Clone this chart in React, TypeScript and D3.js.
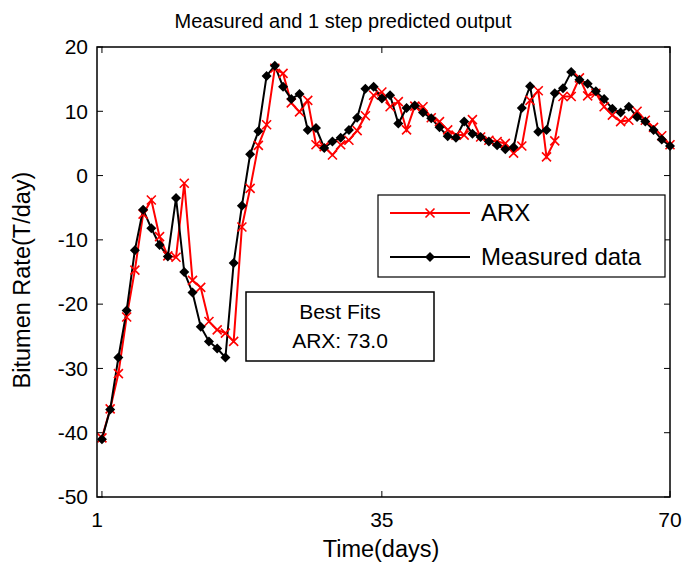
import React from 'react'
import * as d3 from 'd3'

const days = d3.range(1, 71)

const measured = [
  -41.0, -36.4, -28.3, -21.0, -11.6, -5.3, -8.2, -10.8, -12.6, -3.5,
  -15.0, -18.2, -23.5, -25.8, -26.9, -28.3, -13.6, -4.7, 3.3, 6.9,
  15.5, 17.1, 13.8, 11.9, 12.7, 7.1, 7.4, 4.3, 5.3, 5.9,
  7.1, 9.0, 13.5, 13.8, 12.0, 12.5, 8.1, 10.5, 10.9, 9.8,
  8.9, 7.5, 6.1, 5.9, 8.4, 6.5, 6.0, 5.3, 4.7, 4.1,
  4.4, 10.5, 13.9, 6.8, 7.1, 12.8, 13.6, 16.1, 14.9, 14.3,
  13.1, 11.9, 10.4, 9.8, 10.7, 9.1, 8.4, 7.1, 5.6, 4.6,
]

const arx = [
  -40.8, -36.3, -30.8, -22.0, -14.7, -6.0, -3.8, -9.5, -12.5, -12.7,
  -1.2, -16.3, -17.4, -22.7, -24.0, -24.5, -25.8, -8.0, -2.0, 4.7,
  7.9, 16.7, 15.9, 11.3, 9.9, 11.7, 4.8, 4.5, 3.2, 4.8,
  5.5, 7.0, 9.3, 12.5, 13.0, 10.7, 11.5, 7.1, 10.8, 10.7,
  9.0, 8.4, 7.1, 6.3, 6.3, 8.7, 6.0, 5.5, 5.3, 5.0,
  3.5, 4.6, 11.7, 13.2, 2.9, 5.4, 12.3, 12.3, 15.2, 12.4,
  12.8, 10.7, 9.4, 8.4, 8.6, 10.0, 8.6, 7.5, 6.2, 4.8,
]

const xTicks = [1, 35, 70]
const yTicks = [-50, -40, -30, -20, -10, 0, 10, 20]
const fitLines = ['Best Fits', 'ARX: 73.0']

const W = 686
const H = 567
const m = { left: 97, right: 670, top: 47, bottom: 497 }
const font = 'Arial, "Liberation Sans", sans-serif'

export default function App() {
  const x = d3.scaleLinear().domain([0.4, 70]).range([m.left, m.right])
  const y = d3.scaleLinear().domain([-50, 20]).range([m.bottom, m.top])
  const line = d3.line<number>().x((_, i) => x(days[i])).y(d => y(d))

  const cross = (cx: number, cy: number, k: string) => (
    <path key={k} d={`M${cx - 4.5},${cy - 4.5}L${cx + 4.5},${cy + 4.5}M${cx - 4.5},${cy + 4.5}L${cx + 4.5},${cy - 4.5}`}
      stroke="#ff0000" strokeWidth={1.6} fill="none" />
  )
  const diamond = (cx: number, cy: number, k: string) => (
    <path key={k} d={`M${cx},${cy - 5}L${cx + 5},${cy}L${cx},${cy + 5}L${cx - 5},${cy}Z`} fill="#000" />
  )

  return (
    <svg width={W} height={H} style={{ position: 'absolute', left: 0, top: 0, background: '#fff' }}
      fontFamily={font}>
      <rect x={0} y={0} width={W} height={H} fill="#fff" />
      <text x={343} y={28} textAnchor="middle" fontSize={20} fill="#000">
        Measured and 1 step predicted output
      </text>

      {/* ticks, inward on all four sides */}
      {yTicks.map(t => (
        <g key={'y' + t}>
          <line x1={m.left} x2={m.left + 6} y1={y(t)} y2={y(t)} stroke="#000" />
          <line x1={m.right} x2={m.right - 6} y1={y(t)} y2={y(t)} stroke="#000" />
          <text x={88} y={y(t)} dy="0.35em" textAnchor="end" fontSize={21}>{t}</text>
        </g>
      ))}
      {xTicks.map(t => (
        <g key={'x' + t}>
          <line x1={x(t)} x2={x(t)} y1={m.bottom} y2={m.bottom - 6} stroke="#000" />
          <line x1={x(t)} x2={x(t)} y1={m.top} y2={m.top + 6} stroke="#000" />
          <text x={t === 1 ? m.left : x(t)} y={527} textAnchor="middle" fontSize={21}>{t}</text>
        </g>
      ))}
      <text x={381} y={557} textAnchor="middle" fontSize={23.5}>Time(days)</text>
      <text transform="translate(30,280) rotate(-90)" textAnchor="middle" fontSize={23.5}>Bitumen Rate(T/day)</text>

      <path d={line(arx) ?? ''} fill="none" stroke="#ff0000" strokeWidth={2} />
      <path d={line(measured) ?? ''} fill="none" stroke="#000" strokeWidth={2} />
      {arx.map((v, i) => cross(x(days[i]), y(v), 'a' + i))}
      {measured.map((v, i) => diamond(x(days[i]), y(v), 'm' + i))}

      <rect x={m.left} y={m.top} width={m.right - m.left} height={m.bottom - m.top}
        fill="none" stroke="#000" strokeWidth={1.5} />

      {/* legend */}
      <rect x={378} y={195} width={287} height={82} fill="#fff" stroke="#000" strokeWidth={1.2} />
      <line x1={390} x2={470} y1={213} y2={213} stroke="#ff0000" strokeWidth={2} />
      {cross(430, 213, 'lc')}
      <text x={481} y={213} dy="0.35em" fontSize={24}>ARX</text>
      <line x1={390} x2={470} y1={257} y2={257} stroke="#000" strokeWidth={2} />
      {diamond(430, 257, 'ld')}
      <text x={481} y={257} dy="0.35em" fontSize={24}>Measured data</text>

      {/* fit box */}
      <rect x={246} y={292} width={188} height={69} fill="#fff" stroke="#000" strokeWidth={1.5} />
      {fitLines.map((s, i) => (
        <text key={s} x={340} y={312 + i * 29} dy="0.35em" textAnchor="middle" fontSize={21}>{s}</text>
      ))}
    </svg>
  )
}
